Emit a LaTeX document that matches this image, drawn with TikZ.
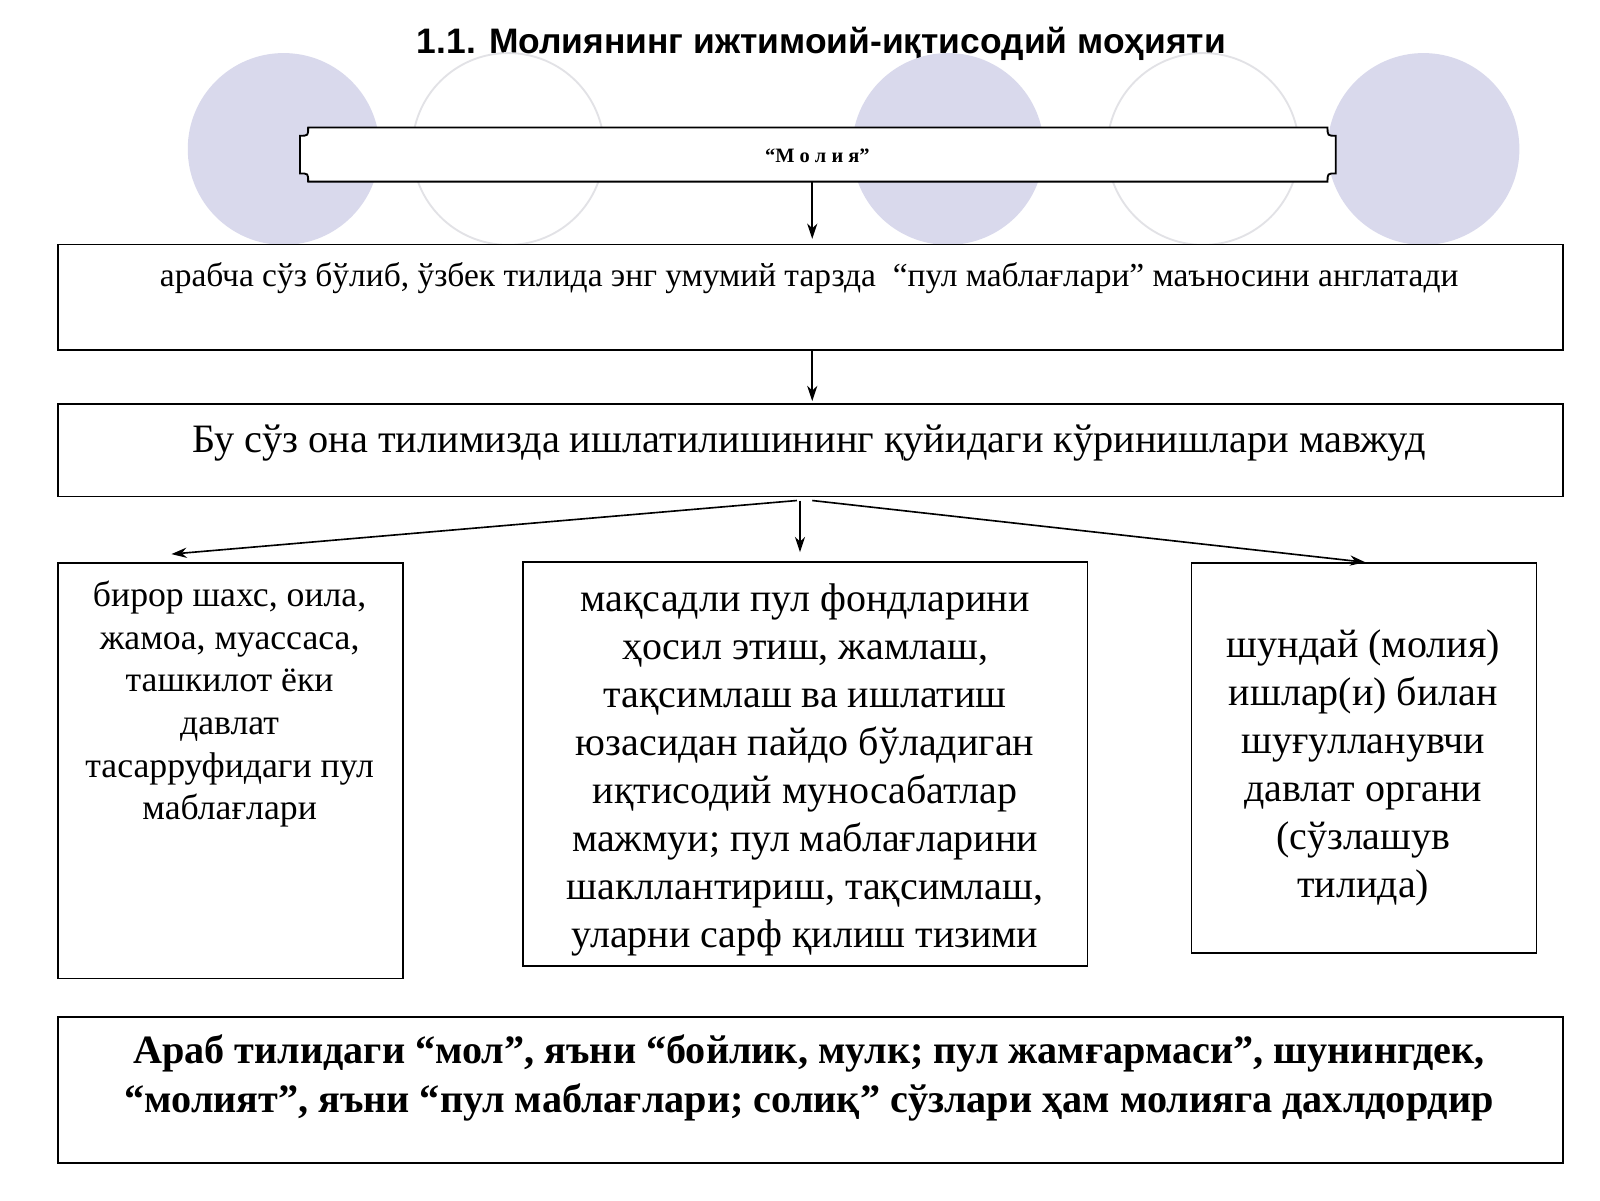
\documentclass[tikz,border=0pt]{standalone}
\usepackage{fontspec}
\setmainfont{Liberation Serif}
\newfontfamily\titlefont{Liberation Sans}
\usetikzlibrary{arrows.meta,calc}
\definecolor{lav}{RGB}{217,217,236}
\definecolor{ringgray}{RGB}{226,226,230}
\begin{document}
\begin{tikzpicture}[x=1pt,y=-1pt,
  boxst/.style={draw=black, line width=1.5pt, fill=white, inner sep=0pt, anchor=north west},
  txt/.style={inner sep=0pt, align=center},
  arr/.style={-{Stealth[length=15pt,width=10pt]}, line width=1.6pt},
  fillcirc/.style={fill=lav},
  ringcirc/.style={draw=ringgray, line width=1.8pt, fill=white}]
\useasboundingbox[fill=white] (0,0) rectangle (1568,1176);
% title
\node[txt, font=\titlefont\bfseries\fontsize{34.7}{40}\selectfont] (title) at (805,43) {1.1. Молиянинг ижтимоий-иқтисодий моҳияти};
% decorative circles
\fill[fillcirc] (278,146) circle[radius=94pt];
\draw[ringcirc] (498,146) circle[radius=94pt];
\fill[fillcirc] (929,146) circle[radius=94pt];
\draw[ringcirc] (1179,146) circle[radius=94pt];
\fill[fillcirc] (1395,146) circle[radius=94pt];
% Molia banner
\draw[line width=1.8pt, fill=white] (302,125) -- (1301,125) .. controls (1301,133) .. (1309,133) -- (1309,170) .. controls (1301,170) .. (1301,178) -- (302,178) .. controls (302,170) .. (294,170) -- (294,133) .. controls (302,133) .. (302,125) -- cycle;
\node[txt, minimum width=1015pt, minimum height=53pt] (molia) at (801.5,151.5) {};
\node[txt, font=\bfseries\fontsize{20}{24}\selectfont] (moliatext) at (801,153) {“М о л и я”};
% box 1
\node[boxst, minimum width=1475pt, minimum height=103pt] (b1) at (56,239) {};
\node[txt, anchor=base, font=\fontsize{32.8}{38}\selectfont] (t1) at (793,281) {арабча сўз бўлиб, ўзбек тилида энг умумий тарзда \ “пул маблағлари” маъносини англатади};
% box 2
\node[boxst, minimum width=1475pt, minimum height=91pt] (b2) at (56,395) {};
\node[txt, anchor=base, font=\fontsize{39.5}{45}\selectfont] (t2) at (793,443) {Бу сўз она тилимизда ишлатилишининг қуйидаги кўринишлари мавжуд};
% three boxes
\node[boxst, minimum width=338pt, minimum height=407pt] (bl) at (56,551) {};
\node[txt, anchor=north, font=\fontsize{35}{41.8}\selectfont] (tl) at (225,569) {бирор шахс, оила,\\жамоа, муассаса,\\ташкилот ёки\\давлат\\тасарруфидаги пул\\маблағлари};
\node[boxst, minimum width=553pt, minimum height=396pt] (bm) at (512,550) {};
\node[txt, anchor=north, font=\fontsize{39.2}{47}\selectfont] (tm) at (789,572) {мақсадли пул фондларини\\ҳосил этиш, жамлаш,\\тақсимлаш ва ишлатиш\\юзасидан пайдо бўладиган\\иқтисодий муносабатлар\\мажмуи; пул маблағларини\\шакллантириш, тақсимлаш,\\уларни сарф қилиш тизими};
\node[boxst, minimum width=338pt, minimum height=382pt] (br) at (1167,551) {};
\node[txt, anchor=north, font=\fontsize{39.2}{47}\selectfont] (tr) at (1336,617) {шундай (молия)\\ишлар(и) билан\\шуғулланувчи\\давлат органи\\(сўзлашув\\тилида)};
% bottom box
\node[boxst, minimum width=1475pt, minimum height=143pt] (bb) at (56,996) {};
\node[txt, anchor=north, font=\bfseries\fontsize{39.4}{48}\selectfont] (tb) at (793,1014) {Араб тилидаги “мол”, яъни “бойлик, мулк; пул жамғармаси”, шунингдек,\\“молият”, яъни “пул маблағлари; солиқ” сўзлари ҳам молияга дахлдордир};
% arrows
\draw[arr] ($(molia.south)+(-5.5,0)$) -- ($(b1.north west)+(740,-5)$);
\draw[arr] ($(b1.south west)+(740,0)$) -- ($(b2.north west)+(740,-2)$);
\draw[arr] ($(b2.south west)+(725,3)$) -- ($(bl.north west)+(112,-8)$);
\draw[arr] ($(b2.south west)+(728,3)$) -- ($(bm.north west)+(272,-9)$);
\draw[arr] ($(b2.south west)+(740,3)$) -- ($(br.north west)+(171,0)$);
\end{tikzpicture}
\end{document}
